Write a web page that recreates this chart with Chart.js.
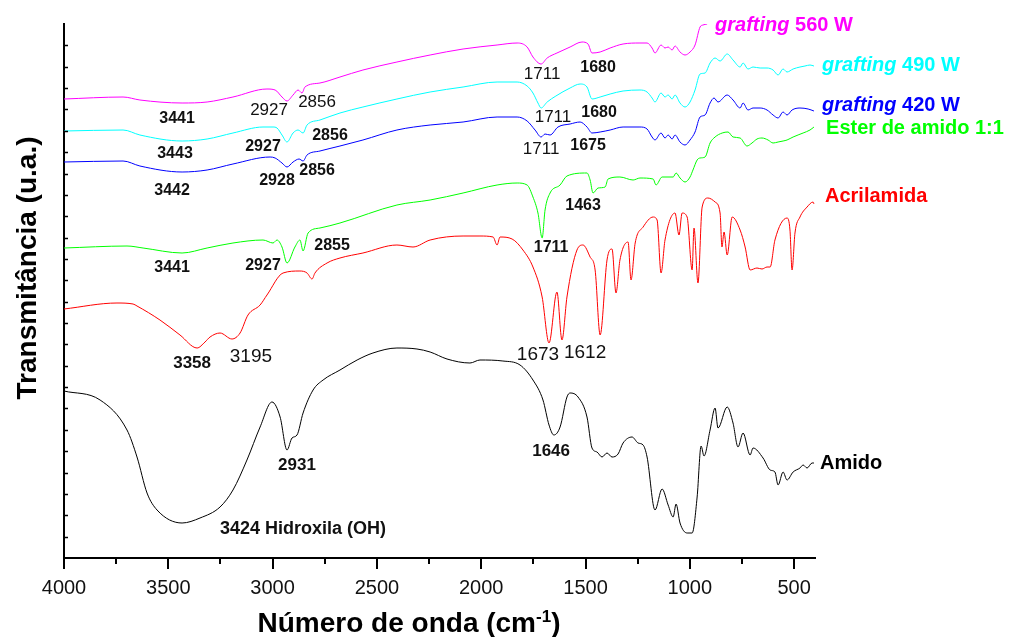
<!DOCTYPE html>
<html>
<head>
<meta charset="utf-8">
<script src="https://cdn.jsdelivr.net/npm/chart.js@4.4.1/dist/chart.umd.min.js"></script>
<style>
html, body { margin: 0; padding: 0; background: #fff; }
#wrap { width: 1011px; height: 637px; }
</style>
</head>
<body>
<div id="wrap"><canvas id="ftirChart" width="1011" height="637"></canvas></div>
<script>
// wavenumber (cm-1) and transmittance (arbitrary units)
const amidoWn = [4000,3827,3698,3650,3602,3554,3434,3348,3252,3190,3123,3060,3003,2964,2931,2907,2883,2854,2806,2758,2677,2595,2519,2404,2308,2245,2164,2054,2006,1896,1814,1752,1704,1675,1652,1622,1589,1574,1536,1493,1469,1445,1421,1397,1373,1344,1320,1277,1248,1224,1205,1167,1133,1104,1080,1066,1047,1013,989,965,946,932,903,879,865,821,793,769,745,711,697,649,615,592,577,553,534,505,472,457,438,414,405];
const amidoT  = [167,158,128,101,65,48,35,40,51,68,98,131,156,141,108,120,123,145,168,178,188,198,205,210,209,206,199,195,198,197,193,178,158,133,123,131,161,165,161,141,110,106,101,105,101,104,115,121,115,113,101,48,69,53,41,54,35,25,25,61,112,102,128,150,130,151,135,111,125,103,110,100,88,86,73,86,78,86,90,93,90,95,95];

const acrilWn = [4000,3746,3669,3650,3540,3444,3362,3324,3300,3252,3195,3156,3118,3060,3027,2950,2869,2835,2811,2797,2739,2677,2567,2404,2327,2245,2087,2006,1943,1924,1910,1852,1800,1752,1708,1675,1637,1613,1589,1541,1512,1478,1454,1430,1397,1373,1354,1335,1296,1282,1262,1224,1176,1157,1138,1119,1071,1052,1037,1013,989,980,961,941,913,879,855,846,836,821,797,759,735,711,678,654,630,615,592,534,520,510,496,472,438,409,405];
const acrilT  = [249,255,254,252,238,223,210,216,221,225,219,225,243,253,263,285,287,285,279,285,295,300,305,313,311,318,322,322,321,313,321,319,308,291,261,215,266,218,261,308,313,301,288,223,298,309,265,298,316,278,315,331,341,338,285,318,345,323,345,341,288,330,275,351,360,356,345,311,326,303,341,328,311,288,290,289,291,291,318,340,328,288,325,341,351,356,354];

const esterWn = [4000,3698,3621,3434,3314,3190,3046,2998,2979,2955,2931,2893,2869,2854,2830,2773,2677,2404,2245,2087,1924,1828,1780,1752,1728,1708,1694,1670,1622,1589,1493,1478,1464,1440,1406,1392,1335,1272,1239,1176,1162,1133,1080,1066,1047,1023,999,985,965,951,927,903,879,845,817,793,759,726,702,678,654,625,601,577,553,534,505,457,424,405];
const esterT  = [310,312,310,305,310,315,318,315,318,311,295,311,318,307,325,330,335,353,358,365,373,375,373,361,345,320,348,365,373,382,385,378,365,370,371,379,381,378,380,379,373,381,381,385,380,376,381,388,398,400,401,415,421,425,426,421,420,412,415,419,420,418,415,416,417,418,421,425,428,431];

const g420Wn = [4000,3717,3636,3434,3314,3190,3012,2988,2955,2931,2902,2873,2854,2835,2773,2677,2567,2404,2245,2087,1924,1828,1780,1742,1713,1694,1670,1632,1574,1526,1493,1469,1430,1382,1320,1239,1205,1181,1167,1138,1119,1104,1085,1071,1047,1023,999,975,951,927,903,884,865,821,793,759,745,721,697,663,630,601,577,553,534,510,472,433,405];
const g420T  = [396,397,392,386,388,394,401,400,395,391,396,399,397,403,407,412,418,428,433,436,441,441,437,428,421,424,423,431,434,436,431,425,426,428,431,431,429,421,418,425,420,423,419,423,416,413,418,426,441,443,455,460,456,463,458,450,455,448,450,450,448,443,440,446,443,448,450,449,447];

const g490Wn = [4000,3717,3636,3434,3314,3190,3046,2998,2979,2955,2931,2902,2878,2854,2835,2773,2677,2567,2404,2245,2087,1924,1828,1780,1752,1728,1713,1684,1642,1574,1526,1493,1469,1430,1382,1320,1239,1205,1181,1167,1138,1119,1104,1085,1071,1047,1023,999,975,951,927,903,879,855,821,793,759,745,721,697,663,630,601,577,553,534,505,472,448,424,405];
const g490T  = [427,428,423,417,419,425,431,431,430,423,416,425,428,425,433,438,445,451,459,466,471,476,476,472,465,455,450,456,462,470,474,471,459,461,464,467,468,466,460,456,465,461,463,459,463,455,451,456,468,484,485,495,500,497,504,498,491,495,489,491,490,490,488,483,489,486,489,491,492,493,492];

const g560Wn = [4000,3717,3636,3434,3314,3190,3027,2988,2955,2931,2902,2878,2859,2845,2773,2677,2567,2404,2245,2087,1924,1828,1780,1752,1713,1684,1637,1574,1517,1488,1469,1430,1382,1320,1239,1205,1181,1167,1138,1119,1104,1085,1071,1047,1023,999,975,951,937,917];
const g560T  = [459,461,458,455,456,461,469,468,461,457,463,468,465,471,475,481,488,496,503,509,513,515,511,501,494,500,505,511,516,514,505,506,510,514,515,515,510,505,513,510,511,508,512,506,503,506,513,531,533,534];

const xMajorTicks = [4000, 3500, 3000, 2500, 2000, 1500, 1000, 500];
const xMinorTicks = [3750, 3250, 2750, 2250, 1750, 1250, 750];
const yTickCount = 25;
const yMax = 534;

// peak labels: text, wavenumber, transmittance, bold
const peakLabels = [
    ['3441', 3458, 439, true], ['2927', 3017, 448, false], ['2856', 2787, 456, false],
    ['3443', 3468, 404, true], ['2927', 3046, 411, true], ['2856', 2725, 422, true],
    ['3442', 3482, 367, true], ['2928', 2979, 377, true], ['2856', 2787, 387, true],
    ['3441', 3482, 290, true], ['2927', 3046, 292, true], ['2855', 2715, 312, true],
    ['1711', 1708, 484, false], ['1680', 1440, 490, true],
    ['1711', 1656, 441, false], ['1680', 1435, 445, true],
    ['1711', 1713, 409, false], ['1675', 1488, 412, true],
    ['1463', 1512, 352, true], ['1711', 1665, 310, true]
];
const lowerLabels = [
    ['3358', 3386, 195, true], ['3195', 3104, 201, false],
    ['1673', 1728, 203, false], ['1612', 1502, 205, false],
    ['2931', 2883, 93, true], ['1646', 1665, 107, true],
    ['3424 Hidroxila (OH)', 2854, 29, true]
];
// series names: italic prefix, rest, wavenumber, transmittance, colour
const seriesNames = [
    ['grafting ', '560 W', 879, 533, '#FF00FF'],
    ['grafting ', '490 W', 366, 493, '#00FFFF'],
    ['grafting ', '420 W', 366, 453, '#0000FF'],
    ['', 'Ester de amido 1:1', 347, 430, '#00FF00'],
    ['', 'Acrilamida', 352, 362, '#FF0000'],
    ['', 'Amido', 376, 95, '#000000']
];

const FONT = '"Liberation Sans", Arial, sans-serif';

function zip(xs, ys) {
    return xs.map((x, i) => ({ x: x, y: ys[i] }));
}

function series(label, xs, ys, color) {
    return {
        label: label,
        data: zip(xs, ys),
        borderColor: color,
        borderWidth: 1,
        pointRadius: 0,
        fill: false,
        showLine: true,
        cubicInterpolationMode: 'monotone'
    };
}

const decorPlugin = {
    id: 'decor',
    afterDraw(chart) {
        const ctx = chart.ctx;
        const xs = chart.scales.x;
        const ys = chart.scales.y;
        const area = chart.chartArea;
        ctx.save();
        ctx.strokeStyle = '#000';
        ctx.lineWidth = 2;
        ctx.beginPath();
        xMajorTicks.forEach(v => {
            const px = Math.round(xs.getPixelForValue(v));
            ctx.moveTo(px, area.bottom);
            ctx.lineTo(px, area.bottom + 11);
        });
        xMinorTicks.forEach(v => {
            const px = Math.round(xs.getPixelForValue(v));
            ctx.moveTo(px, area.bottom);
            ctx.lineTo(px, area.bottom + 6);
        });
        ctx.stroke();

        ctx.lineWidth = 1.5;
        ctx.beginPath();
        for (let i = 1; i < yTickCount; i++) {
            const py = Math.round(ys.getPixelForValue(yMax * i / yTickCount)) + 0.5;
            ctx.moveTo(area.left, py);
            ctx.lineTo(area.left + 4, py);
        }
        ctx.stroke();

        ctx.textAlign = 'center';
        ctx.textBaseline = 'middle';
        ctx.fillStyle = '#111';
        peakLabels.forEach(p => {
            ctx.font = (p[3] ? 'bold 16px ' : '17px ') + FONT;
            ctx.fillText(p[0], xs.getPixelForValue(p[1]), ys.getPixelForValue(p[2]));
        });
        lowerLabels.forEach(p => {
            ctx.font = (p[3] ? 'bold 17px ' : '19px ') + FONT;
            if (p[0].length > 6) ctx.font = 'bold 18px ' + FONT;
            ctx.fillText(p[0], xs.getPixelForValue(p[1]), ys.getPixelForValue(p[2]));
        });

        ctx.textAlign = 'left';
        seriesNames.forEach(s => {
            let x = xs.getPixelForValue(s[2]);
            const y = ys.getPixelForValue(s[3]);
            ctx.fillStyle = s[4];
            if (s[0]) {
                ctx.font = 'italic bold 20px ' + FONT;
                ctx.fillText(s[0], x, y);
                x += ctx.measureText(s[0]).width;
            }
            ctx.font = 'bold 20px ' + FONT;
            ctx.fillText(s[1], x, y);
        });

        // axis titles
        ctx.fillStyle = '#000';
        ctx.textBaseline = 'alphabetic';
        ctx.font = 'bold 28px ' + FONT;
        const t1 = 'Número de onda (cm';
        const w1 = ctx.measureText(t1).width;
        ctx.font = 'bold 17px ' + FONT;
        const wSup = ctx.measureText('-1').width;
        ctx.font = 'bold 28px ' + FONT;
        const w2 = ctx.measureText(')').width;
        let tx = 409 - (w1 + wSup + w2) / 2;
        ctx.fillText(t1, tx, 632);
        tx += w1;
        ctx.font = 'bold 17px ' + FONT;
        ctx.fillText('-1', tx, 622);
        tx += wSup;
        ctx.font = 'bold 28px ' + FONT;
        ctx.fillText(')', tx, 632);

        ctx.translate(28, 268);
        ctx.rotate(-Math.PI / 2);
        ctx.textAlign = 'center';
        ctx.textBaseline = 'middle';
        ctx.font = 'bold 28px ' + FONT;
        ctx.fillText('Transmitância (u.a.)', 0, 0);
        ctx.restore();
    }
};

document.addEventListener('DOMContentLoaded', function() {
    const ctx = document.getElementById('ftirChart');
    new Chart(ctx, {
        type: 'scatter',
        data: {
            datasets: [
                series('Amido', amidoWn, amidoT, '#000000'),
                series('Acrilamida', acrilWn, acrilT, '#FF0000'),
                series('Ester de amido 1:1', esterWn, esterT, '#00FF00'),
                series('grafting 420 W', g420Wn, g420T, '#0000FF'),
                series('grafting 490 W', g490Wn, g490T, '#00FFFF'),
                series('grafting 560 W', g560Wn, g560T, '#FF00FF')
            ]
        },
        options: {
            responsive: false,
            animation: false,
            layout: { padding: { top: 24, right: 196, bottom: 0, left: 0 } },
            plugins: {
                legend: { display: false },
                tooltip: { enabled: false },
                title: { display: false }
            },
            scales: {
                x: {
                    type: 'linear',
                    reverse: true,
                    min: 400,
                    max: 4000,
                    afterFit: function(scale) { scale.height = 79; },
                    afterBuildTicks: function(scale) {
                        scale.ticks = xMajorTicks.map(v => ({ value: v }));
                    },
                    grid: { display: false, drawTicks: false },
                    border: { display: true, color: '#000', width: 2 },
                    ticks: {
                        autoSkip: false,
                        maxRotation: 0,
                        padding: 18,
                        color: '#111',
                        font: { family: FONT, size: 20 },
                        callback: function(value) { return String(value); }
                    }
                },
                y: {
                    type: 'linear',
                    min: 0,
                    max: yMax,
                    afterFit: function(scale) { scale.width = 64; },
                    grid: { display: false, drawTicks: false },
                    border: { display: true, color: '#000', width: 2 },
                    ticks: { display: false }
                }
            }
        },
        plugins: [decorPlugin]
    });
});
</script>
</body>
</html>
